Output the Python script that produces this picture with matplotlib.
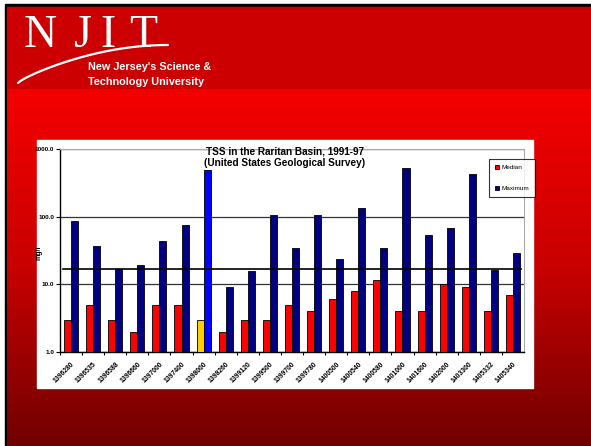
import numpy as np
import matplotlib.pyplot as plt
from matplotlib.colors import LinearSegmentedColormap
from matplotlib.patches import Rectangle

# USGS stations and TSS values (mg/l)
stations = ['1396280', '1396535', '1396588', '1396660', '1397000', '1397400',
            '1398000', '1398260', '1399120', '1399500', '1399700', '1399780',
            '1400500', '1400540', '1400580', '1401000', '1401600', '1402000',
            '1403300', '1405332', '1405340']
median = [3, 5, 3, 2, 5, 5, 3, 2, 3, 3, 5, 4, 6, 8, 11.5, 4, 4, 10, 9, 4, 7]
maximum = [86, 37, 17, 19, 43, 75, 490, 9, 16, 106, 34, 105, 24, 134, 34,
           525, 53, 68, 425, 16.5, 29]
highlight = 6          # station drawn in other colours
reference_level = 17   # horizontal line across the chart

W, H = 591, 446
fig = plt.figure(figsize=(W / 100, H / 100), dpi=100)
plt.rcParams['font.family'] = ['Liberation Sans', 'DejaVu Sans']

# slide background
bg = fig.add_axes([0, 0, 1, 1])
bg.axis('off')
bg.add_patch(Rectangle((0, 0), W, H, color='white', zorder=0))
bg.add_patch(Rectangle((5, 4), W, H, color='black', zorder=0.5))
cmap = LinearSegmentedColormap.from_list('slide', ['#f50000', '#c80000', '#700000'])
grad = np.linspace(0, 1, 256).reshape(-1, 1)
bg.imshow(grad, cmap=cmap, extent=(7, W, H, 88), aspect='auto', zorder=1)
bg.add_patch(Rectangle((7, 7), W, 81, color='#cc0000', zorder=1.5))
bg.set_xlim(0, W)
bg.set_ylim(H, 0)

# NJIT logo
for ch, x in zip('NJIT', [40, 83, 108, 143]):
    bg.text(x, 47, ch, color='white', fontsize=33, family='Liberation Serif',
            ha='center', va='baseline', zorder=3)
t = np.linspace(0, 1, 60)
sx = 18 + 150 * t
sy = 83 - 38 * np.sin(t * np.pi / 2) ** 0.8
bg.plot(sx, sy, color='white', lw=1.6, solid_capstyle='round', zorder=3)
bg.text(88, 67, "New Jersey's Science &", color='white', fontsize=7.8,
        fontweight='bold', va='center', zorder=3)
bg.text(88, 82, "Technology University", color='white', fontsize=7.8,
        fontweight='bold', va='center', zorder=3)

# white chart panel
bg.add_patch(Rectangle((37, 140), 496, 248, color='white', zorder=2))

ax = fig.add_axes([60 / W, 1 - 352 / H, 464 / W, 203 / H])
ax.set_facecolor('none')
x = np.arange(len(stations))
w = 0.32
med_colors = ['#ff0000'] * len(stations)
max_colors = ['#000080'] * len(stations)
med_colors[highlight] = '#ffcc00'
max_colors[highlight] = '#0000ff'
ax.bar(x - w / 2, median, w, color=med_colors, edgecolor='black', lw=0.6,
       label='Median', zorder=3)
ax.bar(x + w / 2, maximum, w, color=max_colors, edgecolor='black', lw=0.6,
       label='Maximum', zorder=3)
ax.set_yscale('log')
ax.set_ylim(1, 1000)
ax.set_xlim(-0.5, len(stations) - 0.5)
ax.set_yticks([1, 10, 100, 1000])
ax.set_yticklabels(['1.0', '10.0', '100.0', '1000.0'], fontsize=4.6, fontweight='bold')
ax.minorticks_off()
ax.yaxis.grid(True, color='#333333', lw=0.9, zorder=1)
ax.axhline(reference_level, xmin=0.006, xmax=0.994, color='black', lw=1.2, zorder=4)

ax.set_xticks(x - 0.5, minor=True)
ax.tick_params(axis='x', which='minor', length=2, width=0.8)
ax.set_xticks(x)
ax.set_xticklabels(stations, rotation=45, ha='right', rotation_mode='anchor',
                   fontsize=4.9, fontweight='bold')
ax.tick_params(axis='x', which='major', length=0, pad=6)
ax.tick_params(axis='y', length=3, width=0.8, pad=1)
ax.set_ylabel('mg/l', fontsize=5, fontweight='bold')
ax.yaxis.set_label_coords(-0.037, 0.49)
for s in ['left', 'bottom']:
    ax.spines[s].set_linewidth(1.0)
for s in ['right', 'top']:
    ax.spines[s].set_color('#aaaaaa')
    ax.spines[s].set_linewidth(0.8)

fig.text(285 / W, 1 - 151 / H, 'TSS in the Raritan Basin, 1991-97', fontsize=7.2,
         fontweight='bold', ha='center', va='center')
fig.text(285 / W, 1 - 163 / H, '(United States Geological Survey)', fontsize=7.2,
         fontweight='bold', ha='center', va='center')

leg = ax.legend(loc='upper left', bbox_to_anchor=(489 / W, 1 - 159 / H),
                bbox_transform=fig.transFigure, fontsize=4.6, frameon=True,
                fancybox=False, edgecolor='black', handlelength=0.7,
                handleheight=0.7, labelspacing=2.4, borderpad=0.9,
                handletextpad=0.4, borderaxespad=0)
leg.get_frame().set_linewidth(0.8)
leg.legend_handles[0].set_color('#ff0000')
leg.legend_handles[0].set_edgecolor('black')
leg.legend_handles[1].set_color('#000080')
leg.legend_handles[1].set_edgecolor('black')

fig.savefig('out.png', dpi=100)
